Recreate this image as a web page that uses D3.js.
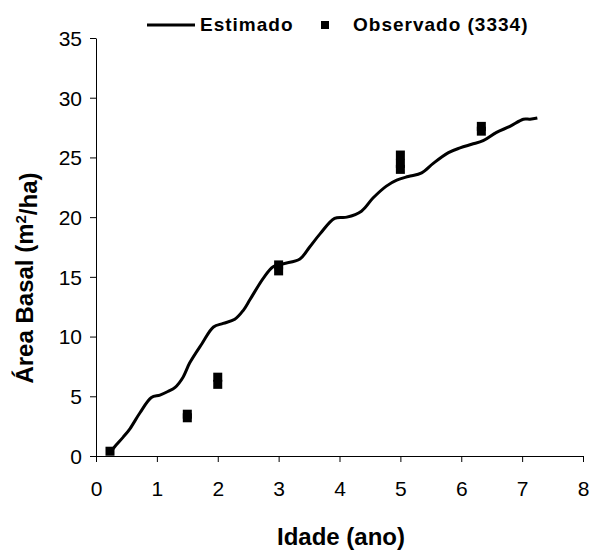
<!DOCTYPE html>
<html>
<head>
<meta charset="utf-8">
<script src="https://cdn.jsdelivr.net/npm/d3@7"></script>
<style>
  html, body { margin: 0; padding: 0; background: #fff; }
  svg { display: block; font-family: "Liberation Sans", Arial, sans-serif; }
</style>
</head>
<body>
<svg id="chart" width="594" height="550"></svg>
<script>
// Estimated curve
const ageEst = [0.25,0.31,0.45,0.56,0.72,0.91,1.05,1.18,1.30,1.43,1.54,1.74,1.93,2.09,2.28,2.42,2.53,2.75,2.91,3.08,3.35,3.51,3.68,3.92,4.12,4.36,4.55,4.77,4.94,5.13,5.35,5.54,5.79,5.98,6.17,6.36,6.58,6.80,7.02,7.13,7.25];
const baEst  = [0.4,0.8,1.6,2.3,3.6,4.9,5.1,5.4,5.75,6.6,7.8,9.4,10.8,11.1,11.45,12.2,13.1,14.9,15.85,16.1,16.5,17.5,18.6,19.9,20.0,20.5,21.6,22.6,23.1,23.4,23.7,24.5,25.4,25.8,26.1,26.4,27.1,27.6,28.2,28.2,28.3];
// Observed points (plot 3334)
const ageObs = [0.23,1.5,1.5,2.0,2.0,3.0,3.0,5.0,5.0,5.0,6.33,6.33];
const baObs  = [0.4,3.2,3.5,6.0,6.6,15.5,16.0,24.0,24.5,25.2,27.2,27.6];
const xTicks = [0,1,2,3,4,5,6,7,8];
const yTicks = [0,5,10,15,20,25,30,35];
const legendLabels = ["Estimado", "Observado (3334)"];

const svg = d3.select("#chart");
const x = d3.scaleLinear().domain([0, 8]).range([96, 583]);
const y = d3.scaleLinear().domain([0, 35]).range([456, 38]);

// axes
const xAxis = svg.append("g").attr("transform", "translate(0,456)")
  .call(d3.axisBottom(x).tickValues(xTicks).tickSize(6).tickPadding(19).tickSizeOuter(0));
const yAxis = svg.append("g").attr("transform", "translate(96,0)")
  .call(d3.axisLeft(y).tickValues(yTicks).tickSize(6).tickPadding(8).tickSizeOuter(0));
[xAxis, yAxis].forEach(g => {
  g.select(".domain").attr("stroke", "#000").attr("stroke-width", 1);
  g.selectAll(".tick line").attr("stroke", "#000").attr("stroke-width", 1);
  g.selectAll(".tick text").attr("fill", "#000")
    .style("font-family", '"Liberation Sans", Arial, sans-serif').style("font-size", "21px");
});
xAxis.selectAll(".tick text").attr("dy", "0.71em");
yAxis.selectAll(".tick text").attr("dy", "0.35em");

// axis titles
svg.append("text").attr("x", 341).attr("y", 545).attr("text-anchor", "middle")
  .style("font-weight", "bold").style("font-size", "24px").text("Idade (ano)");
const yt = svg.append("text").attr("transform", "translate(33,278) rotate(-90)")
  .attr("text-anchor", "middle").style("font-weight", "bold").style("font-size", "24px");
yt.append("tspan").text("Área Basal (m");
yt.append("tspan").attr("dy", "-0.45em").style("font-size", "15px").text("2");
yt.append("tspan").attr("dy", "0.45em").text("/ha)");

// line
const line = d3.line().x((d, i) => x(ageEst[i])).y((d, i) => y(baEst[i])).curve(d3.curveCatmullRom.alpha(0.5));
svg.append("path").datum(baEst).attr("d", line)
  .attr("fill", "none").attr("stroke", "#000").attr("stroke-width", 3).attr("stroke-linejoin", "round");

// observed markers
const ms = 9;
svg.append("g").selectAll("rect").data(baObs).join("rect")
  .attr("x", (d, i) => x(ageObs[i]) - ms / 2)
  .attr("y", d => y(d) - ms / 2)
  .attr("width", ms).attr("height", ms).attr("fill", "#000");

// legend
const lg = svg.append("g");
lg.append("line").attr("x1", 147).attr("x2", 195).attr("y1", 25).attr("y2", 25)
  .attr("stroke", "#000").attr("stroke-width", 3);
lg.append("text").attr("x", 200).attr("y", 31).style("font-weight", "bold")
  .style("font-size", "19px").style("letter-spacing", "1px").text(legendLabels[0]);
lg.append("rect").attr("x", 321).attr("y", 21).attr("width", 8).attr("height", 8).attr("fill", "#000");
lg.append("text").attr("x", 353).attr("y", 31).style("font-weight", "bold")
  .style("font-size", "19px").style("letter-spacing", "1px").text(legendLabels[1]);
</script>
</body>
</html>
